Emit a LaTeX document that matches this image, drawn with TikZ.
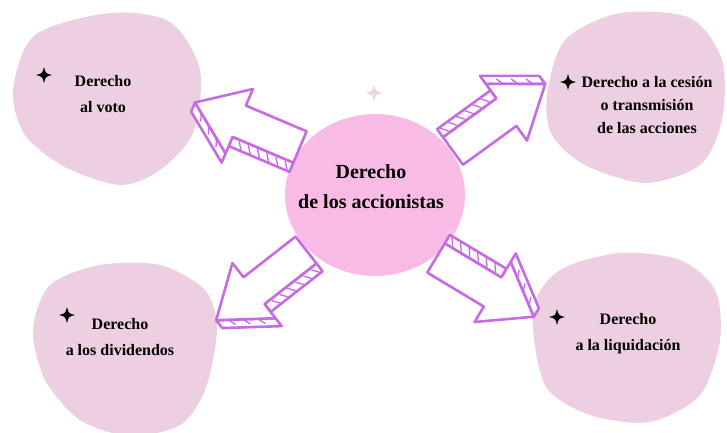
\documentclass[tikz,border=0pt]{standalone}
\usepackage{fontspec}
\setmainfont{Liberation Serif}
\usetikzlibrary{calc,shapes.geometric}

\definecolor{blobpink}{HTML}{ECCFE0}
\definecolor{hubpink}{HTML}{F8BBE6}
\definecolor{arrowpurple}{HTML}{C66BE3}
\definecolor{sparkpink}{HTML}{EED5E6}

\tikzset{
    blob/.style={fill=blobpink},
    hub/.style={ellipse, fill=hubpink, minimum width=180, minimum height=162, inner sep=0pt},
    hubtext/.style={align=center, font=\bfseries\fontsize{20}{30}\selectfont},
    lbl/.style={align=center, font=\bfseries\fontsize{16}{26}\selectfont},
    arrowline/.style={draw=arrowpurple, line width=2.6pt, line join=round},
    hatchline/.style={draw=arrowpurple, line width=1.3pt, line cap=round},
    pics/sparkle/.style={code={
        \fill (0,8) .. controls (1.6,1.6) .. (8,0) .. controls (1.6,-1.6) .. (0,-8)
            .. controls (-1.6,-1.6) .. (-8,0) .. controls (-1.6,1.6) .. (0,8) -- cycle;
    }},
    pics/bigarrow/.style={code={
        % side of the block
        \draw[arrowline, fill=white] (0,-17) -- (66,-17) -- (66,-27) -- (0,-27) -- cycle;
        \draw[arrowline, fill=white] (114,0) -- (66,-35) -- (66,-45) -- (114,-10) -- cycle;
        \foreach \i in {8,18,...,58}{
            \draw[hatchline] (\i,-19) -- ++(-5,-7);
        }
        \foreach \t in {0.2,0.45,0.7}{
            \draw[hatchline] ($(114,0)!\t!(66,-35)$) -- ++(-3,-8);
        }
        % front face
        \draw[arrowline, fill=white] (0,17) -- (66,17) -- (66,35) -- (114,0)
            -- (66,-35) -- (66,-17) -- (0,-17) -- cycle;
    }},
}

\begin{document}
\begin{tikzpicture}[x=1pt, y=-1pt]
    \useasboundingbox (0,0) rectangle (727,432);

    % blobs
    \fill[blob] plot[smooth cycle] coordinates {(13,90) (35,35) (110,13) (170,22) (200,70)
        (193,133) (160,170) (120,185) (65,167) (25,135)};
    \fill[blob] plot[smooth cycle] coordinates {(547,95) (565,40) (620,13) (690,18) (722,60)
        (722,120) (700,165) (645,183) (585,165) (552,135)};
    \fill[blob] plot[smooth cycle] coordinates {(33,330) (50,285) (100,265) (160,265) (205,290)
        (217,330) (205,390) (180,425) (130,436) (80,420) (45,380)};
    \fill[blob] plot[smooth cycle] coordinates {(533,310) (560,270) (620,253) (680,260) (715,290)
        (720,340) (700,395) (650,422) (590,415) (545,385)};

    \node[hub] (hub) at (375,195) {};
    \node[hubtext] (hubtext) at (371,187) {Derecho\\de los accionistas};
    \pic[sparkpink, scale=1.1] at (374,93) {sparkle};

    % arrows out of the hub
    \coordinate (tlTail) at (300,147);
    \coordinate (trTail) at (453,151);
    \coordinate (blTail) at (306,250);
    \coordinate (brTail) at (436,258);
    \pic[rotate=157] at (tlTail) {bigarrow};
    \pic[rotate=36] at (trTail) {bigarrow};
    \pic[rotate=218] at (blTail) {bigarrow};
    \pic[rotate=-31] at (brTail) {bigarrow};

    % labels
    \node[lbl] (voto) at (103,94) {Derecho\\al voto};
    \node[lbl, font=\bfseries\fontsize{16}{23}\selectfont] (cesion) at (647,105)
        {Derecho a la cesión\\o transmisión\\de las acciones};
    \node[lbl] (dividendos) at (120,337) {Derecho\\a los dividendos};
    \node[lbl] (liquidacion) at (628,334) {Derecho\\a la liquidación};

    \pic at (44,75) {sparkle};
    \pic at (568,82) {sparkle};
    \pic at (67,315) {sparkle};
    \pic at (557,317) {sparkle};
\end{tikzpicture}
\end{document}
